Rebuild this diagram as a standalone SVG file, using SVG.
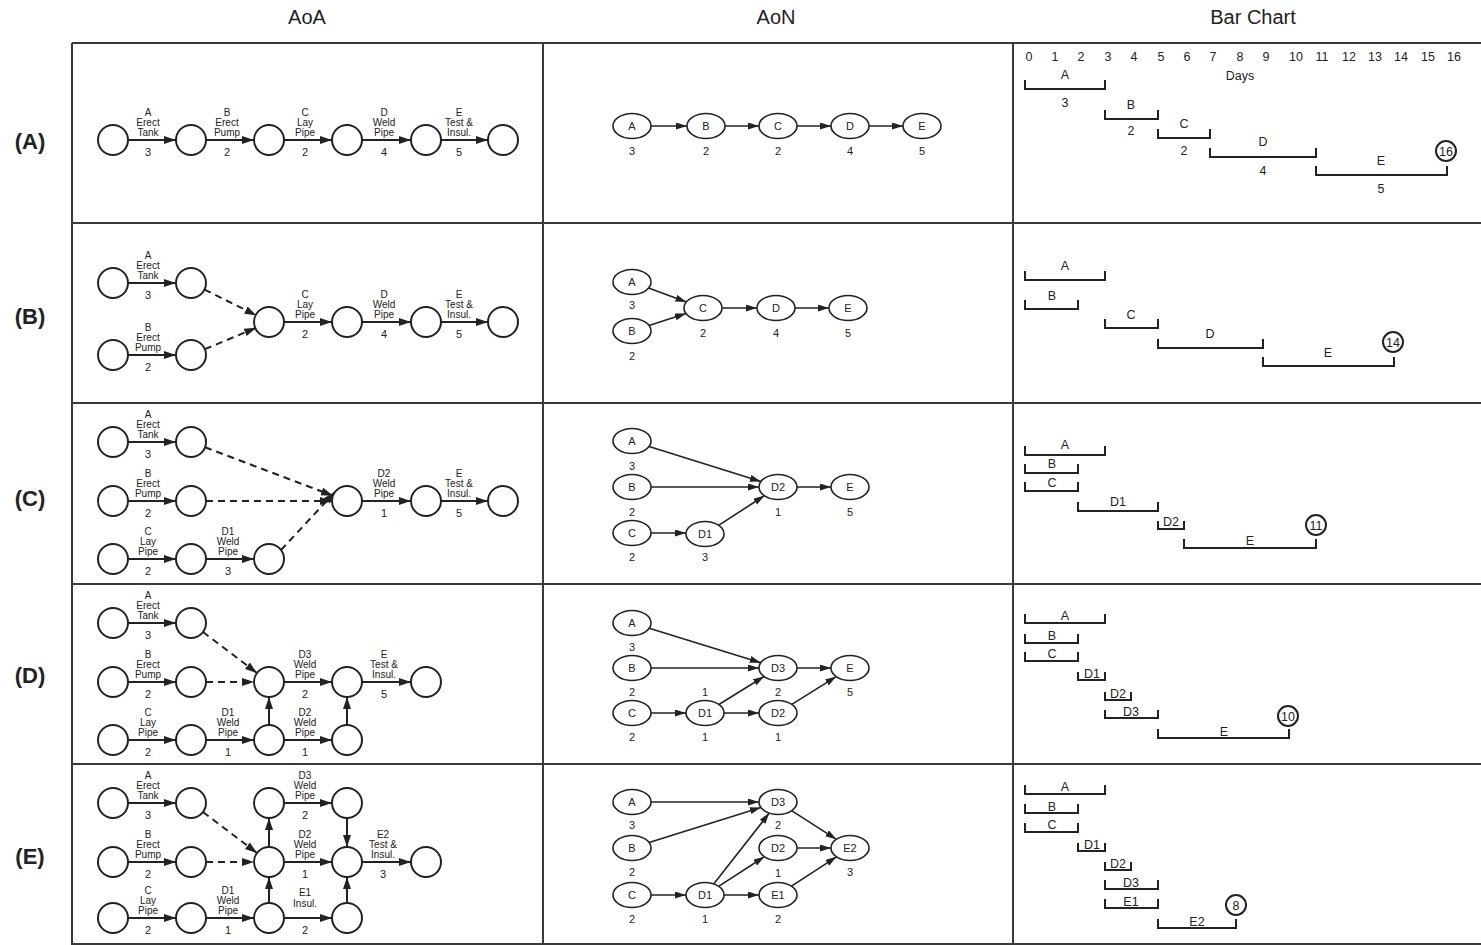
<svg xmlns="http://www.w3.org/2000/svg" width="1481" height="945" viewBox="0 0 1481 945">
<defs>
<marker id="ah" markerUnits="userSpaceOnUse" markerWidth="14" markerHeight="10" refX="12" refY="4" orient="auto"><path d="M0,0 L12,4 L0,8 z" fill="#222"/></marker>
<marker id="ah2" markerUnits="userSpaceOnUse" markerWidth="13" markerHeight="9" refX="11" refY="3.5" orient="auto"><path d="M0,0 L11,3.5 L0,7 z" fill="#222"/></marker>
<style>
text{font-family:"Liberation Sans",Arial,Helvetica,sans-serif;fill:#222;text-anchor:middle}
.hdr{font-size:20px}
.rl{font-size:22px;font-weight:bold}
.lb{font-size:10px}
.nm{font-size:11px}
.bt{font-size:12.5px}
.grid line{stroke:#3a3a3a;stroke-width:2}
.c{fill:#fff;stroke:#222;stroke-width:2}
.e{fill:#fff;stroke:#222;stroke-width:1.6}
.a{stroke:#222;stroke-width:2;fill:none;marker-end:url(#ah)}
.d{stroke:#222;stroke-width:2;fill:none;stroke-dasharray:7,5;marker-end:url(#ah)}
.a2{stroke:#222;stroke-width:1.6;fill:none;marker-end:url(#ah2)}
.bar{stroke:#222;stroke-width:2;fill:none}
.bc{fill:#fff;stroke:#222;stroke-width:2}
</style>
</defs>
<rect width="1481" height="945" fill="#fff"/>
<g id="headers">
<text class="hdr" x="307" y="24">AoA</text>
<text class="hdr" x="776" y="24">AoN</text>
<text class="hdr" x="1253" y="24">Bar Chart</text>
<text class="rl" x="30" y="149">(A)</text>
<text class="rl" x="30" y="324">(B)</text>
<text class="rl" x="30" y="506">(C)</text>
<text class="rl" x="30" y="683">(D)</text>
<text class="rl" x="30" y="864">(E)</text>
</g>
<g id="grid" class="grid">
<line x1="72" y1="43" x2="1481" y2="43"/>
<line x1="72" y1="223" x2="1481" y2="223"/>
<line x1="72" y1="403" x2="1481" y2="403"/>
<line x1="72" y1="584" x2="1481" y2="584"/>
<line x1="72" y1="764" x2="1481" y2="764"/>
<line x1="72" y1="944" x2="1481" y2="944"/>
<line x1="72" y1="43" x2="72" y2="945"/>
<line x1="543" y1="43" x2="543" y2="945"/>
<line x1="1013" y1="43" x2="1013" y2="945"/>
</g>

<!-- ============ AoA connectors ============ -->
<g id="aoa-connectors">
<line class="a" x1="128" y1="140" x2="176" y2="140"/>
<line class="a" x1="206" y1="140" x2="254" y2="140"/>
<line class="a" x1="284" y1="140" x2="332" y2="140"/>
<line class="a" x1="362" y1="140" x2="411" y2="140"/>
<line class="a" x1="441" y1="140" x2="488" y2="140"/>
<line class="a" x1="128" y1="283" x2="176" y2="283"/>
<line class="a" x1="128" y1="355" x2="176" y2="355"/>
<line class="d" x1="204.5" y1="289.6" x2="256.5" y2="315.4"/>
<line class="d" x1="204.8" y1="349.2" x2="256.2" y2="327.8"/>
<line class="a" x1="284" y1="322" x2="332" y2="322"/>
<line class="a" x1="362" y1="322" x2="411" y2="322"/>
<line class="a" x1="441" y1="322" x2="488" y2="322"/>
<line class="a" x1="128" y1="442" x2="176" y2="442"/>
<line class="a" x1="128" y1="501" x2="176" y2="501"/>
<line class="a" x1="128" y1="559" x2="176" y2="559"/>
<line class="a" x1="206" y1="559" x2="254" y2="559"/>
<line class="d" x1="205" y1="447.3" x2="333" y2="495.7"/>
<line class="d" x1="206" y1="501" x2="332" y2="501"/>
<line class="d" x1="281" y1="550" x2="335" y2="492"/>
<line class="a" x1="362" y1="501" x2="411" y2="501"/>
<line class="a" x1="441" y1="501" x2="488" y2="501"/>
<line class="a" x1="128" y1="623" x2="176" y2="623"/>
<line class="a" x1="128" y1="682" x2="176" y2="682"/>
<line class="a" x1="128" y1="740" x2="176" y2="740"/>
<line class="d" x1="203" y1="632" x2="257" y2="673"/>
<line class="d" x1="206" y1="682" x2="254" y2="682"/>
<line class="a" x1="206" y1="740" x2="254" y2="740"/>
<line class="a" x1="284" y1="740" x2="332" y2="740"/>
<line class="a" x1="284" y1="682" x2="332" y2="682"/>
<line class="a" x1="362" y1="682" x2="411" y2="682"/>
<line class="a" x1="269" y1="725" x2="269" y2="697"/>
<line class="a" x1="347" y1="725" x2="347" y2="697"/>
<line class="a" x1="128" y1="803" x2="176" y2="803"/>
<line class="a" x1="128" y1="862" x2="176" y2="862"/>
<line class="a" x1="128" y1="918" x2="176" y2="918"/>
<line class="d" x1="203" y1="812" x2="257" y2="853"/>
<line class="d" x1="206" y1="862" x2="254" y2="862"/>
<line class="a" x1="206" y1="918" x2="254" y2="918"/>
<line class="a" x1="284" y1="803" x2="332" y2="803"/>
<line class="a" x1="284" y1="862" x2="332" y2="862"/>
<line class="a" x1="284" y1="918" x2="332" y2="918"/>
<line class="a" x1="362" y1="862" x2="411" y2="862"/>
<line class="a" x1="269" y1="847" x2="269" y2="818"/>
<line class="a" x1="269" y1="903" x2="269" y2="877"/>
<line class="a" x1="347" y1="818" x2="347" y2="847"/>
<line class="a" x1="347" y1="903" x2="347" y2="877"/>
</g>

<!-- ============ AoA nodes ============ -->
<g id="aoa-A">
<circle class="c" cx="113" cy="140" r="15"/><circle class="c" cx="191" cy="140" r="15"/><circle class="c" cx="269" cy="140" r="15"/><circle class="c" cx="347" cy="140" r="15"/><circle class="c" cx="426" cy="140" r="15"/><circle class="c" cx="503" cy="140" r="15"/>
<text class="lb"><tspan x="148" y="116">A</tspan><tspan x="148" y="126">Erect</tspan><tspan x="148" y="136">Tank</tspan></text><text class="nm" x="148" y="156">3</text>
<text class="lb"><tspan x="227" y="116">B</tspan><tspan x="227" y="126">Erect</tspan><tspan x="227" y="136">Pump</tspan></text><text class="nm" x="227" y="156">2</text>
<text class="lb"><tspan x="305" y="116">C</tspan><tspan x="305" y="126">Lay</tspan><tspan x="305" y="136">Pipe</tspan></text><text class="nm" x="305" y="156">2</text>
<text class="lb"><tspan x="384" y="116">D</tspan><tspan x="384" y="126">Weld</tspan><tspan x="384" y="136">Pipe</tspan></text><text class="nm" x="384" y="156">4</text>
<text class="lb"><tspan x="459" y="116">E</tspan><tspan x="459" y="126">Test &amp;</tspan><tspan x="459" y="136">Insul.</tspan></text><text class="nm" x="459" y="156">5</text>
</g>
<g id="aoa-B">
<circle class="c" cx="113" cy="283" r="15"/><circle class="c" cx="191" cy="283" r="15"/><circle class="c" cx="113" cy="355" r="15"/><circle class="c" cx="191" cy="355" r="15"/>
<circle class="c" cx="269" cy="322" r="15"/><circle class="c" cx="347" cy="322" r="15"/><circle class="c" cx="426" cy="322" r="15"/><circle class="c" cx="503" cy="322" r="15"/>
<text class="lb"><tspan x="148" y="259">A</tspan><tspan x="148" y="269">Erect</tspan><tspan x="148" y="279">Tank</tspan></text><text class="nm" x="148" y="299">3</text>
<text class="lb"><tspan x="148" y="331">B</tspan><tspan x="148" y="341">Erect</tspan><tspan x="148" y="351">Pump</tspan></text><text class="nm" x="148" y="371">2</text>
<text class="lb"><tspan x="305" y="298">C</tspan><tspan x="305" y="308">Lay</tspan><tspan x="305" y="318">Pipe</tspan></text><text class="nm" x="305" y="338">2</text>
<text class="lb"><tspan x="384" y="298">D</tspan><tspan x="384" y="308">Weld</tspan><tspan x="384" y="318">Pipe</tspan></text><text class="nm" x="384" y="338">4</text>
<text class="lb"><tspan x="459" y="298">E</tspan><tspan x="459" y="308">Test &amp;</tspan><tspan x="459" y="318">Insul.</tspan></text><text class="nm" x="459" y="338">5</text>
</g>
<g id="aoa-C">
<circle class="c" cx="113" cy="442" r="15"/><circle class="c" cx="191" cy="442" r="15"/>
<circle class="c" cx="113" cy="501" r="15"/><circle class="c" cx="191" cy="501" r="15"/><circle class="c" cx="347" cy="501" r="15"/><circle class="c" cx="426" cy="501" r="15"/><circle class="c" cx="503" cy="501" r="15"/>
<circle class="c" cx="113" cy="559" r="15"/><circle class="c" cx="191" cy="559" r="15"/><circle class="c" cx="269" cy="559" r="15"/>
<text class="lb"><tspan x="148" y="418">A</tspan><tspan x="148" y="428">Erect</tspan><tspan x="148" y="438">Tank</tspan></text><text class="nm" x="148" y="458">3</text>
<text class="lb"><tspan x="148" y="477">B</tspan><tspan x="148" y="487">Erect</tspan><tspan x="148" y="497">Pump</tspan></text><text class="nm" x="148" y="517">2</text>
<text class="lb"><tspan x="148" y="535">C</tspan><tspan x="148" y="545">Lay</tspan><tspan x="148" y="555">Pipe</tspan></text><text class="nm" x="148" y="575">2</text>
<text class="lb"><tspan x="228" y="535">D1</tspan><tspan x="228" y="545">Weld</tspan><tspan x="228" y="555">Pipe</tspan></text><text class="nm" x="228" y="575">3</text>
<text class="lb"><tspan x="384" y="477">D2</tspan><tspan x="384" y="487">Weld</tspan><tspan x="384" y="497">Pipe</tspan></text><text class="nm" x="384" y="517">1</text>
<text class="lb"><tspan x="459" y="477">E</tspan><tspan x="459" y="487">Test &amp;</tspan><tspan x="459" y="497">Insul.</tspan></text><text class="nm" x="459" y="517">5</text>
</g>
<g id="aoa-D">
<circle class="c" cx="113" cy="623" r="15"/><circle class="c" cx="191" cy="623" r="15"/>
<circle class="c" cx="113" cy="682" r="15"/><circle class="c" cx="191" cy="682" r="15"/><circle class="c" cx="269" cy="682" r="15"/><circle class="c" cx="347" cy="682" r="15"/><circle class="c" cx="426" cy="682" r="15"/>
<circle class="c" cx="113" cy="740" r="15"/><circle class="c" cx="191" cy="740" r="15"/><circle class="c" cx="269" cy="740" r="15"/><circle class="c" cx="347" cy="740" r="15"/>
<text class="lb"><tspan x="148" y="599">A</tspan><tspan x="148" y="609">Erect</tspan><tspan x="148" y="619">Tank</tspan></text><text class="nm" x="148" y="639">3</text>
<text class="lb"><tspan x="148" y="658">B</tspan><tspan x="148" y="668">Erect</tspan><tspan x="148" y="678">Pump</tspan></text><text class="nm" x="148" y="698">2</text>
<text class="lb"><tspan x="148" y="716">C</tspan><tspan x="148" y="726">Lay</tspan><tspan x="148" y="736">Pipe</tspan></text><text class="nm" x="148" y="756">2</text>
<text class="lb"><tspan x="228" y="716">D1</tspan><tspan x="228" y="726">Weld</tspan><tspan x="228" y="736">Pipe</tspan></text><text class="nm" x="228" y="756">1</text>
<text class="lb"><tspan x="305" y="716">D2</tspan><tspan x="305" y="726">Weld</tspan><tspan x="305" y="736">Pipe</tspan></text><text class="nm" x="305" y="756">1</text>
<text class="lb"><tspan x="305" y="658">D3</tspan><tspan x="305" y="668">Weld</tspan><tspan x="305" y="678">Pipe</tspan></text><text class="nm" x="305" y="698">2</text>
<text class="lb"><tspan x="384" y="658">E</tspan><tspan x="384" y="668">Test &amp;</tspan><tspan x="384" y="678">Insul.</tspan></text><text class="nm" x="384" y="698">5</text>
</g>
<g id="aoa-E">
<circle class="c" cx="113" cy="803" r="15"/><circle class="c" cx="191" cy="803" r="15"/><circle class="c" cx="269" cy="803" r="15"/><circle class="c" cx="347" cy="803" r="15"/>
<circle class="c" cx="113" cy="862" r="15"/><circle class="c" cx="191" cy="862" r="15"/><circle class="c" cx="269" cy="862" r="15"/><circle class="c" cx="347" cy="862" r="15"/><circle class="c" cx="426" cy="862" r="15"/>
<circle class="c" cx="113" cy="918" r="15"/><circle class="c" cx="191" cy="918" r="15"/><circle class="c" cx="269" cy="918" r="15"/><circle class="c" cx="347" cy="918" r="15"/>
<text class="lb"><tspan x="148" y="779">A</tspan><tspan x="148" y="789">Erect</tspan><tspan x="148" y="799">Tank</tspan></text><text class="nm" x="148" y="819">3</text>
<text class="lb"><tspan x="148" y="838">B</tspan><tspan x="148" y="848">Erect</tspan><tspan x="148" y="858">Pump</tspan></text><text class="nm" x="148" y="878">2</text>
<text class="lb"><tspan x="148" y="894">C</tspan><tspan x="148" y="904">Lay</tspan><tspan x="148" y="914">Pipe</tspan></text><text class="nm" x="148" y="934">2</text>
<text class="lb"><tspan x="228" y="894">D1</tspan><tspan x="228" y="904">Weld</tspan><tspan x="228" y="914">Pipe</tspan></text><text class="nm" x="228" y="934">1</text>
<text class="lb"><tspan x="305" y="896">E1</tspan><tspan x="305" y="907">Insul.</tspan></text><text class="nm" x="305" y="934">2</text>
<text class="lb"><tspan x="305" y="779">D3</tspan><tspan x="305" y="789">Weld</tspan><tspan x="305" y="799">Pipe</tspan></text><text class="nm" x="305" y="819">2</text>
<text class="lb"><tspan x="305" y="838">D2</tspan><tspan x="305" y="848">Weld</tspan><tspan x="305" y="858">Pipe</tspan></text><text class="nm" x="305" y="878">1</text>
<text class="lb"><tspan x="383" y="838">E2</tspan><tspan x="383" y="848">Test &amp;</tspan><tspan x="383" y="858">Insul.</tspan></text><text class="nm" x="383" y="878">3</text>
</g>

<!-- ============ AoN connectors ============ -->
<g id="aon-connectors">
<line class="a2" x1="651" y1="126" x2="687" y2="126"/>
<line class="a2" x1="725" y1="126" x2="759" y2="126"/>
<line class="a2" x1="797" y1="126" x2="831" y2="126"/>
<line class="a2" x1="869" y1="126" x2="903" y2="126"/>
<line class="a2" x1="648.6" y1="288.1" x2="686.4" y2="301.9"/>
<line class="a2" x1="649" y1="325.5" x2="686" y2="313.5"/>
<line class="a2" x1="722" y1="308" x2="757" y2="308"/>
<line class="a2" x1="795" y1="308" x2="829" y2="308"/>
<line class="a2" x1="649.1" y1="446.4" x2="760.9" y2="481.6"/>
<line class="a2" x1="651" y1="487" x2="759" y2="487"/>
<line class="a2" x1="651" y1="533" x2="686" y2="533"/>
<line class="a2" x1="718.6" y1="525.3" x2="764.4" y2="495.7"/>
<line class="a2" x1="797" y1="487" x2="831" y2="487"/>
<line class="a2" x1="649.2" y1="628.3" x2="760.8" y2="662.7"/>
<line class="a2" x1="651" y1="668" x2="759" y2="668"/>
<line class="a2" x1="651" y1="713" x2="686" y2="713"/>
<line class="a2" x1="718.9" y1="704.5" x2="764.1" y2="676.5"/>
<line class="a2" x1="724" y1="713" x2="759" y2="713"/>
<line class="a2" x1="797" y1="668" x2="831" y2="668"/>
<line class="a2" x1="791.8" y1="704.4" x2="836.2" y2="676.6"/>
<line class="a2" x1="651" y1="802" x2="759" y2="802"/>
<line class="a2" x1="649.1" y1="842.6" x2="760.9" y2="807.4"/>
<line class="a2" x1="651" y1="895" x2="686" y2="895"/>
<line class="a2" x1="713.7" y1="883.9" x2="769.3" y2="813.1"/>
<line class="a2" x1="718.6" y1="886.3" x2="764.4" y2="856.7"/>
<line class="a2" x1="724" y1="895" x2="759" y2="895"/>
<line class="a2" x1="791.6" y1="810.7" x2="836.4" y2="839.3"/>
<line class="a2" x1="797" y1="848" x2="831" y2="848"/>
<line class="a2" x1="791.5" y1="886.2" x2="836.5" y2="856.8"/>
</g>

<!-- ============ AoN nodes ============ -->
<g id="aon-A">
<ellipse class="e" cx="632" cy="126" rx="19" ry="12.5"/><text class="nm" x="632" y="130">A</text><text class="nm" x="632" y="155">3</text>
<ellipse class="e" cx="706" cy="126" rx="19" ry="12.5"/><text class="nm" x="706" y="130">B</text><text class="nm" x="706" y="155">2</text>
<ellipse class="e" cx="778" cy="126" rx="19" ry="12.5"/><text class="nm" x="778" y="130">C</text><text class="nm" x="778" y="155">2</text>
<ellipse class="e" cx="850" cy="126" rx="19" ry="12.5"/><text class="nm" x="850" y="130">D</text><text class="nm" x="850" y="155">4</text>
<ellipse class="e" cx="922" cy="126" rx="19" ry="12.5"/><text class="nm" x="922" y="130">E</text><text class="nm" x="922" y="155">5</text>
</g>
<g id="aon-B">
<ellipse class="e" cx="632" cy="282" rx="19" ry="12.5"/><text class="nm" x="632" y="286">A</text><text class="nm" x="632" y="309">3</text>
<ellipse class="e" cx="632" cy="331" rx="19" ry="12.5"/><text class="nm" x="632" y="335">B</text><text class="nm" x="632" y="360">2</text>
<ellipse class="e" cx="703" cy="308" rx="19" ry="12.5"/><text class="nm" x="703" y="312">C</text><text class="nm" x="703" y="337">2</text>
<ellipse class="e" cx="776" cy="308" rx="19" ry="12.5"/><text class="nm" x="776" y="312">D</text><text class="nm" x="776" y="337">4</text>
<ellipse class="e" cx="848" cy="308" rx="19" ry="12.5"/><text class="nm" x="848" y="312">E</text><text class="nm" x="848" y="337">5</text>
</g>
<g id="aon-C">
<ellipse class="e" cx="632" cy="441" rx="19" ry="12.5"/><text class="nm" x="632" y="445">A</text><text class="nm" x="632" y="470">3</text>
<ellipse class="e" cx="632" cy="487" rx="19" ry="12.5"/><text class="nm" x="632" y="491">B</text><text class="nm" x="632" y="516">2</text>
<ellipse class="e" cx="632" cy="533" rx="19" ry="12.5"/><text class="nm" x="632" y="537">C</text><text class="nm" x="632" y="561">2</text>
<ellipse class="e" cx="705" cy="534" rx="19" ry="12.5"/><text class="nm" x="705" y="538">D1</text><text class="nm" x="705" y="561">3</text>
<ellipse class="e" cx="778" cy="487" rx="19" ry="12.5"/><text class="nm" x="778" y="491">D2</text><text class="nm" x="778" y="516">1</text>
<ellipse class="e" cx="850" cy="487" rx="19" ry="12.5"/><text class="nm" x="850" y="491">E</text><text class="nm" x="850" y="516">5</text>
</g>
<g id="aon-D">
<ellipse class="e" cx="632" cy="623" rx="19" ry="12.5"/><text class="nm" x="632" y="627">A</text><text class="nm" x="632" y="651">3</text>
<ellipse class="e" cx="632" cy="668" rx="19" ry="12.5"/><text class="nm" x="632" y="672">B</text><text class="nm" x="632" y="696">2</text>
<ellipse class="e" cx="632" cy="713" rx="19" ry="12.5"/><text class="nm" x="632" y="717">C</text><text class="nm" x="632" y="741">2</text>
<ellipse class="e" cx="705" cy="713" rx="19" ry="12.5"/><text class="nm" x="705" y="717">D1</text><text class="nm" x="705" y="696">1</text><text class="nm" x="705" y="741">1</text>
<ellipse class="e" cx="778" cy="668" rx="19" ry="12.5"/><text class="nm" x="778" y="672">D3</text><text class="nm" x="778" y="696">2</text>
<ellipse class="e" cx="778" cy="713" rx="19" ry="12.5"/><text class="nm" x="778" y="717">D2</text><text class="nm" x="778" y="741">1</text>
<ellipse class="e" cx="850" cy="668" rx="19" ry="12.5"/><text class="nm" x="850" y="672">E</text><text class="nm" x="850" y="696">5</text>
</g>
<g id="aon-E">
<ellipse class="e" cx="632" cy="802" rx="19" ry="12.5"/><text class="nm" x="632" y="806">A</text><text class="nm" x="632" y="829">3</text>
<ellipse class="e" cx="632" cy="848" rx="19" ry="12.5"/><text class="nm" x="632" y="852">B</text><text class="nm" x="632" y="876">2</text>
<ellipse class="e" cx="632" cy="895" rx="19" ry="12.5"/><text class="nm" x="632" y="899">C</text><text class="nm" x="632" y="923">2</text>
<ellipse class="e" cx="705" cy="895" rx="19" ry="12.5"/><text class="nm" x="705" y="899">D1</text><text class="nm" x="705" y="923">1</text>
<ellipse class="e" cx="778" cy="802" rx="19" ry="12.5"/><text class="nm" x="778" y="806">D3</text><text class="nm" x="778" y="829">2</text>
<ellipse class="e" cx="778" cy="848" rx="19" ry="12.5"/><text class="nm" x="778" y="852">D2</text><text class="nm" x="778" y="877">1</text>
<ellipse class="e" cx="778" cy="895" rx="19" ry="12.5"/><text class="nm" x="778" y="899">E1</text><text class="nm" x="778" y="923">2</text>
<ellipse class="e" cx="850" cy="848" rx="19" ry="12.5"/><text class="nm" x="850" y="852">E2</text><text class="nm" x="850" y="876">3</text>
</g>

<!-- ============ Bar charts ============ -->
<g id="bar-axis">
<text class="bt" x="1029" y="61">0</text><text class="bt" x="1055" y="61">1</text><text class="bt" x="1081" y="61">2</text><text class="bt" x="1108" y="61">3</text><text class="bt" x="1134" y="61">4</text><text class="bt" x="1161" y="61">5</text><text class="bt" x="1187" y="61">6</text><text class="bt" x="1213" y="61">7</text><text class="bt" x="1240" y="61">8</text><text class="bt" x="1266" y="61">9</text><text class="bt" x="1296" y="61">10</text><text class="bt" x="1322" y="61">11</text><text class="bt" x="1349" y="61">12</text><text class="bt" x="1375" y="61">13</text><text class="bt" x="1401" y="61">14</text><text class="bt" x="1428" y="61">15</text><text class="bt" x="1454" y="61">16</text>
<text class="bt" x="1240" y="80">Days</text>
</g>
<g id="bar-A">
<path class="bar" d="M1025,80 V89 H1105 V80"/><text class="bt" x="1065" y="79">A</text><text class="bt" x="1065" y="107">3</text>
<path class="bar" d="M1105,110 V119 H1158 V110"/><text class="bt" x="1131" y="109">B</text><text class="bt" x="1131" y="135">2</text>
<path class="bar" d="M1158,129 V138 H1210 V129"/><text class="bt" x="1184" y="128">C</text><text class="bt" x="1184" y="155">2</text>
<path class="bar" d="M1210,148 V157 H1316 V148"/><text class="bt" x="1263" y="146">D</text><text class="bt" x="1263" y="175">4</text>
<path class="bar" d="M1316,166 V175 H1447 V166"/><text class="bt" x="1381" y="165">E</text><text class="bt" x="1381" y="193">5</text>
<circle class="bc" cx="1446" cy="151" r="10"/><text class="bt" x="1446" y="155.5">16</text>
</g>
<g id="bar-B">
<path class="bar" d="M1025,271 V280 H1105 V271"/><text class="bt" x="1065" y="270">A</text>
<path class="bar" d="M1025,300 V309 H1078 V300"/><text class="bt" x="1052" y="300">B</text>
<path class="bar" d="M1105,319 V328 H1158 V319"/><text class="bt" x="1131" y="319">C</text>
<path class="bar" d="M1158,339 V348 H1263 V339"/><text class="bt" x="1210" y="338">D</text>
<path class="bar" d="M1263,357 V366 H1394 V357"/><text class="bt" x="1328" y="357">E</text>
<circle class="bc" cx="1393" cy="342" r="10"/><text class="bt" x="1393" y="346.5">14</text>
</g>
<g id="bar-C">
<path class="bar" d="M1025,446 V455 H1105 V446"/><text class="bt" x="1065" y="449">A</text>
<path class="bar" d="M1025,464 V473 H1078 V464"/><text class="bt" x="1052" y="468">B</text>
<path class="bar" d="M1025,482 V491 H1078 V482"/><text class="bt" x="1052" y="487">C</text>
<path class="bar" d="M1078,502 V511 H1158 V502"/><text class="bt" x="1118" y="506">D1</text>
<path class="bar" d="M1158,521 V529 H1184 V521"/><text class="bt" x="1171" y="525.5">D2</text>
<path class="bar" d="M1184,539 V548 H1316 V539"/><text class="bt" x="1250" y="544.5">E</text>
<circle class="bc" cx="1316" cy="525" r="10"/><text class="bt" x="1316" y="529.5">11</text>
</g>
<g id="bar-D">
<path class="bar" d="M1025,614 V623 H1105 V614"/><text class="bt" x="1065" y="619.5">A</text>
<path class="bar" d="M1025,634 V643 H1078 V634"/><text class="bt" x="1052" y="639.5">B</text>
<path class="bar" d="M1025,652 V661 H1078 V652"/><text class="bt" x="1052" y="658">C</text>
<path class="bar" d="M1078,672 V680 H1105 V672"/><text class="bt" x="1092" y="677.5">D1</text>
<path class="bar" d="M1105,692 V700 H1131 V692"/><text class="bt" x="1118" y="697.5">D2</text>
<path class="bar" d="M1105,710 V718 H1158 V710"/><text class="bt" x="1131" y="716">D3</text>
<path class="bar" d="M1158,729 V738 H1289 V729"/><text class="bt" x="1224" y="736">E</text>
<circle class="bc" cx="1288" cy="716" r="10"/><text class="bt" x="1288" y="720.5">10</text>
</g>
<g id="bar-E">
<path class="bar" d="M1025,785 V794 H1105 V785"/><text class="bt" x="1065" y="790.5">A</text>
<path class="bar" d="M1025,804 V813 H1078 V804"/><text class="bt" x="1052" y="810.5">B</text>
<path class="bar" d="M1025,823 V832 H1078 V823"/><text class="bt" x="1052" y="829">C</text>
<path class="bar" d="M1078,843 V851 H1105 V843"/><text class="bt" x="1092" y="848.5">D1</text>
<path class="bar" d="M1105,862 V870 H1131 V862"/><text class="bt" x="1118" y="867.5">D2</text>
<path class="bar" d="M1105,880 V889 H1158 V880"/><text class="bt" x="1131" y="887">D3</text>
<path class="bar" d="M1105,899 V908 H1158 V899"/><text class="bt" x="1131" y="906">E1</text>
<path class="bar" d="M1158,919 V928 H1236 V919"/><text class="bt" x="1197" y="925.5">E2</text>
<circle class="bc" cx="1236" cy="905" r="10"/><text class="bt" x="1236" y="909.5">8</text>
</g>
</svg>
